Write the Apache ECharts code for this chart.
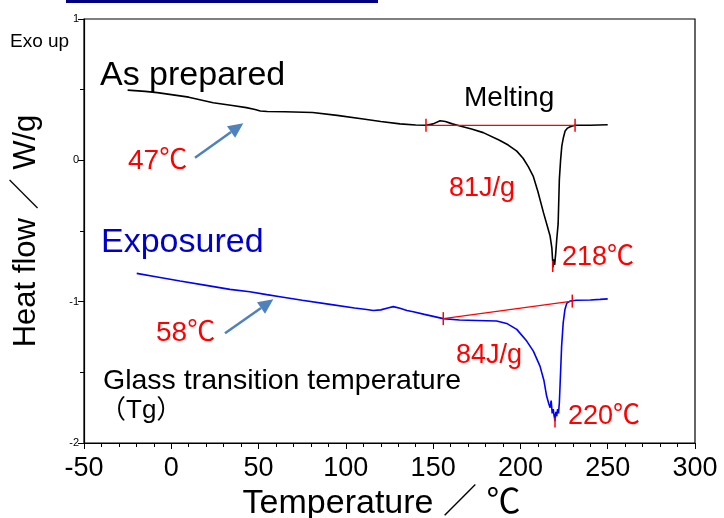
<!DOCTYPE html>
<html>
<head>
<meta charset="utf-8">
<script src="https://cdn.jsdelivr.net/npm/echarts@6/dist/echarts.min.js"></script>
<style>html,body{margin:0;padding:0;background:#fff;}#c{width:724px;height:518px;}</style>
</head>
<body>
<div id="c"></div>
<script>
// ---- data ----
var xTicks = [-50, 0, 50, 100, 150, 200, 250, 300];
var yTicks = [-2, -1, 0, 1];

var asPreparedT  = [-25, -15, -8, 0, 10, 24, 35, 43, 48, 51, 55, 65, 81, 95, 110, 120, 131, 140, 146, 150, 154, 157, 161, 165.4, 172, 178.7, 188, 193, 197.9, 201.5, 204.5, 207.3, 210, 213.2, 215.5, 217, 218, 218.4, 218.7, 219.1, 219.6, 220.2, 220.8, 221.6, 222.3, 223, 223.7, 224.6, 225.6, 227, 228.5, 231.3, 240, 250];
var asPreparedHF = [0.497, 0.488, 0.479, 0.465, 0.447, 0.408, 0.388, 0.373, 0.360, 0.349, 0.345, 0.344, 0.338, 0.318, 0.292, 0.275, 0.258, 0.250, 0.248, 0.258, 0.280, 0.275, 0.258, 0.243, 0.222, 0.196, 0.142, 0.108, 0.065, 0.015, -0.045, -0.111, -0.22, -0.37, -0.47, -0.536, -0.62, -0.70, -0.757, -0.70, -0.74, -0.66, -0.56, -0.45, -0.134, 0.0, 0.101, 0.16, 0.207, 0.228, 0.238, 0.248, 0.248, 0.252];

var exposedT  = [-19.8, -8, 5, 20, 33.6, 45, 54.7, 62.3, 75, 90.9, 105, 111.9, 115.7, 120, 124, 127.2, 131, 135, 138.6, 145, 155.8, 165, 175, 186.4, 192.1, 197.9, 203.6, 207.4, 211.2, 213.5, 215, 216.2, 217, 217.6, 218.2, 218.8, 219.2, 219.8, 220.3, 220.8, 221.3, 221.8, 222.3, 223, 223.6, 224.5, 225.5, 226.6, 228.4, 232, 240, 245.6, 250];
var exposedHF = [-0.80, -0.826, -0.854, -0.885, -0.913, -0.930, -0.950, -0.965, -0.990, -1.019, -1.045, -1.055, -1.062, -1.058, -1.045, -1.035, -1.047, -1.062, -1.071, -1.09, -1.12, -1.13, -1.133, -1.137, -1.154, -1.196, -1.279, -1.35, -1.456, -1.56, -1.668, -1.72, -1.75, -1.70, -1.79, -1.76, -1.80, -1.845, -1.78, -1.81, -1.76, -1.79, -1.715, -1.50, -1.314, -1.15, -1.055, -1.01, -0.996, -0.99, -0.988, -0.984, -0.98];

var baselineAsT = [145.9, 231.3];
var baselineAsHF = [0.248, 0.248];
var baselineExT = [155.8, 229.7];
var baselineExHF = [-1.12, -0.996];
var peakAsT = [218.5, 218.5];
var peakAsHF = [-0.71, -0.79];
var peakExT = [219.8, 219.8];
var peakExHF = [-1.82, -1.89];

function pairs(xs, ys) { return xs.map(function (x, i) { return [x, ys[i]]; }); }

var FONT = "'Liberation Sans', Arial, 'Noto Sans CJK JP', sans-serif";
var chart = echarts.init(document.getElementById('c'), null, { renderer: 'canvas' });

function arrow(x1, y1, x2, y2) {
  var dx = x2 - x1, dy = y2 - y1, L = Math.sqrt(dx * dx + dy * dy);
  var ux = dx / L, uy = dy / L, hl = 15, hw = 7;
  var bx = x2 - ux * hl, by = y2 - uy * hl;
  return [
    { type: 'line', shape: { x1: x1, y1: y1, x2: bx, y2: by }, style: { stroke: '#4F81BD', lineWidth: 2.5 } },
    { type: 'polygon', shape: { points: [[x2, y2], [bx - uy * hw, by + ux * hw], [bx + uy * hw, by - ux * hw]] }, style: { fill: '#4F81BD' } }
  ];
}

function txt(s, x, y, size, color) {
  return { type: 'text', x: x, y: y, style: { text: s, font: size + 'px ' + FONT, fill: color || '#000', textAlign: 'left', textVerticalAlign: 'middle' } };
}

var graphics = [
  { type: 'rect', shape: { x: 66, y: 0, width: 312, height: 3 }, style: { fill: '#000080' } },
  txt('Exo up', 10, 42, 19),
  txt('As prepared', 100, 76, 34),
  txt('Melting', 464, 98, 28),
  txt('47℃', 128, 161, 28, '#FF0000'),
  txt('81J/g', 449, 189, 27, '#FF0000'),
  txt('218℃', 562, 258, 27, '#FF0000'),
  txt('Exposured', 101, 243, 34, '#0000CC'),
  txt('58℃', 156, 333, 28, '#FF0000'),
  txt('84J/g', 456, 356, 27, '#FF0000'),
  txt('Glass transition temperature', 103, 381, 28.5),
  txt('（Tg）', 100, 411, 26),
  txt('220℃', 568, 417, 27, '#FF0000')
].concat(arrow(195, 157.7, 243.3, 123.3)).concat(arrow(225, 333.3, 273.3, 299.3));

chart.setOption({
  animation: false,
  backgroundColor: '#fff',
  grid: { left: 84, right: 29, top: 19, bottom: 75, containLabel: false, outerBoundsMode: 'none', show: true, borderColor: '#000', borderWidth: 1.2, backgroundColor: 'transparent' },
  xAxis: {
    type: 'value', min: xTicks[0], max: xTicks[xTicks.length - 1], interval: 50,
    axisLine: { show: true, onZero: false, lineStyle: { color: '#000', width: 1.2 } },
    axisTick: { show: true, inside: false, length: 6, lineStyle: { color: '#000' } },
    minorTick: { show: true, splitNumber: 5, length: 4, lineStyle: { color: '#000' } },
    splitLine: { show: false },
    axisLabel: { fontSize: 27, color: '#000', fontFamily: FONT, margin: 12 },
    name: 'Temperature ／ ℃', nameLocation: 'middle', nameGap: 39,
    nameTextStyle: { fontSize: 34, color: '#000', fontFamily: FONT, padding: [0, 16, 0, 0] }
  },
  yAxis: {
    type: 'value', min: yTicks[0], max: yTicks[yTicks.length - 1], interval: 1,
    axisLine: { show: true, onZero: false, lineStyle: { color: '#000', width: 1.2 } },
    axisTick: { show: true, inside: false, length: 6, lineStyle: { color: '#000' } },
    minorTick: { show: true, splitNumber: 2, length: 4, lineStyle: { color: '#000' } },
    splitLine: { show: false },
    axisLabel: { fontSize: 11, color: '#000', fontFamily: FONT, margin: 5 },
    name: 'Heat flow ／ W/g', nameLocation: 'middle', nameGap: 42, nameRotate: 90,
    nameTextStyle: { fontSize: 31, color: '#000', fontFamily: FONT }
  },
  series: [
    { type: 'line', data: pairs(asPreparedT, asPreparedHF), showSymbol: false, symbol: 'none', lineStyle: { color: '#000', width: 1.6 }, z: 3 },
    { type: 'line', data: pairs(exposedT, exposedHF), showSymbol: false, symbol: 'none', lineStyle: { color: '#0000FF', width: 1.6 }, z: 3 },
    { type: 'line', data: pairs(baselineAsT, baselineAsHF), symbol: 'rect', symbolSize: [1.5, 13], showSymbol: true, itemStyle: { color: '#FF0000' }, lineStyle: { color: '#FF0000', width: 1.2 }, z: 4 },
    { type: 'line', data: pairs(baselineExT, baselineExHF), symbol: 'rect', symbolSize: [1.5, 13], showSymbol: true, itemStyle: { color: '#FF0000' }, lineStyle: { color: '#FF0000', width: 1.2 }, z: 4 },
    { type: 'line', data: pairs(peakAsT, peakAsHF), symbol: 'none', lineStyle: { color: '#FF0000', width: 1.5 }, z: 4 },
    { type: 'line', data: pairs(peakExT, peakExHF), symbol: 'none', lineStyle: { color: '#FF0000', width: 1.5 }, z: 4 }
  ],
  graphic: graphics
});
</script>
</body>
</html>
